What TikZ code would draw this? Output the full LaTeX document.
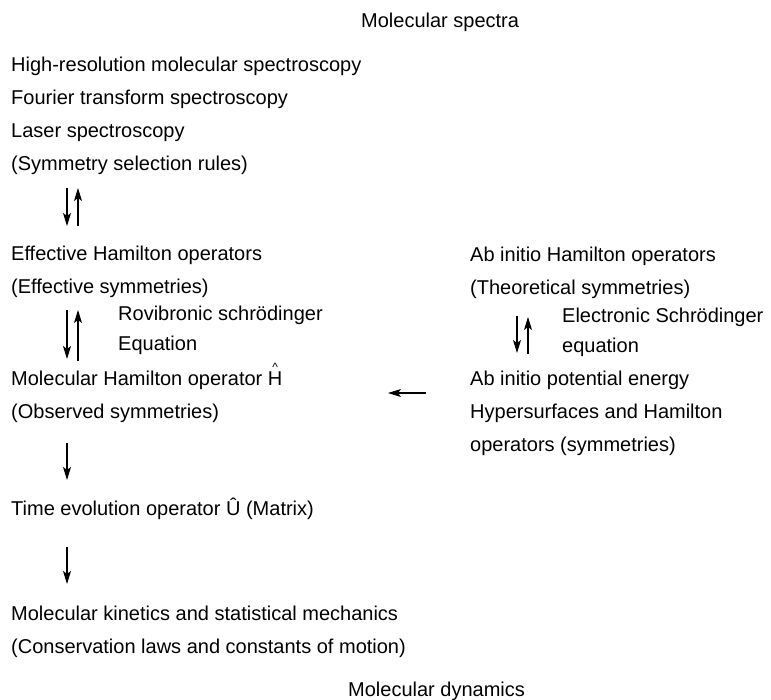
\documentclass[tikz,border=0pt]{standalone}
\usepackage{fontspec}
\setmainfont{Liberation Sans}
\usetikzlibrary{arrows.meta}
\newcommand{\hatH}{\hbox{\ooalign{H\cr\hidewidth\raisebox{0.7em}{\fontsize{12}{12}\selectfont\textasciicircum}\hidewidth\cr}}}
\begin{document}
\begin{tikzpicture}[x=1pt,y=-1pt,
  txt/.style={anchor=base west,inner sep=0pt,align=left,font=\fontsize{20}{33}\selectfont},
  sub/.style={anchor=base west,inner sep=0pt,align=left,font=\fontsize{20}{29.5}\selectfont},
  arr/.style={line width=1.1pt,-{Stealth[length=13pt,width=8pt,inset=3pt]}}]
\useasboundingbox (0,0) rectangle (771,699);
\fill[white] (0,0) rectangle (771,699);
% multi-line nodes are placed by the baseline of their last line
\node[txt] (spectra) at (361,27) {Molecular spectra};
\node[txt] (exp) at (11,170) {High-resolution molecular spectroscopy\\Fourier transform spectroscopy\\Laser spectroscopy\\(Symmetry selection rules)};
\node[txt] (eff) at (11,293) {Effective Hamilton operators\\(Effective symmetries)};
\node[sub] (rovib) at (118,350) {Rovibronic schrödinger\\Equation};
\node[txt] (mol) at (11,418) {Molecular Hamilton operator \hatH\\(Observed symmetries)};
\node[txt] (time) at (11,515) {Time evolution operator Û (Matrix)};
\node[txt] (kin) at (11,653) {Molecular kinetics and statistical mechanics\\(Conservation laws and constants of motion)};
\node[txt] (dyn) at (348,696.5) {Molecular dynamics};
\node[txt] (abh) at (470,294) {Ab initio Hamilton operators\\(Theoretical symmetries)};
\node[sub] (elec) at (562,352) {Electronic Schrödinger\\equation};
\node[txt] (abpot) at (470,451) {Ab initio potential energy\\Hypersurfaces and Hamilton\\operators (symmetries)};
% arrow coordinates
\coordinate (a1s) at (67,188); \coordinate (a1e) at (67,226);
\coordinate (b1s) at (78,226); \coordinate (b1e) at (78,188);
\coordinate (a2s) at (67,310); \coordinate (a2e) at (67,359);
\coordinate (b2s) at (78,361); \coordinate (b2e) at (78,310);
\coordinate (a3s) at (517,316); \coordinate (a3e) at (517,353);
\coordinate (b3s) at (528,354); \coordinate (b3e) at (528,317);
\coordinate (d1s) at (67,443); \coordinate (d1e) at (67,480);
\coordinate (d2s) at (67,547); \coordinate (d2e) at (67,584);
\coordinate (hs) at (426,393); \coordinate (he) at (388,393);
\draw[arr] (a1s) -- (a1e);
\draw[arr] (b1s) -- (b1e);
\draw[arr] (a2s) -- (a2e);
\draw[arr] (b2s) -- (b2e);
\draw[arr] (a3s) -- (a3e);
\draw[arr] (b3s) -- (b3e);
\draw[arr] (d1s) -- (d1e);
\draw[arr] (d2s) -- (d2e);
\draw[arr] (hs) -- (he);
\end{tikzpicture}
\end{document}
